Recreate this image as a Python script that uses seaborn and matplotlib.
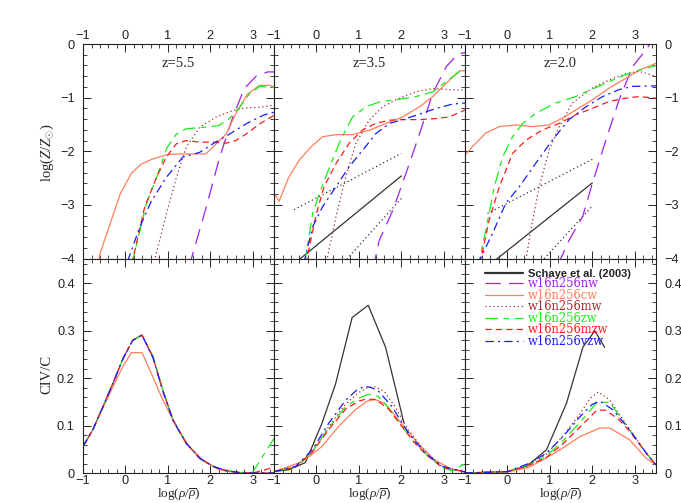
import matplotlib
matplotlib.use("Agg")
import matplotlib.pyplot as plt
import seaborn as sns
import pandas as pd
from matplotlib.ticker import MultipleLocator, FixedLocator, FuncFormatter
from matplotlib.lines import Line2D

sns.set_style("ticks")
plt.rcParams.update({
    "font.family": ["Liberation Serif", "DejaVu Serif"],
    "mathtext.fontset": "custom",
    "mathtext.rm": "Liberation Serif",
    "mathtext.it": "Liberation Serif:italic",
    "lines.scale_dashes": False,
    "axes.edgecolor": "#222222",
    "axes.linewidth": 0.8,
    "xtick.direction": "in", "ytick.direction": "in",
    "xtick.top": True, "ytick.right": True,
    "xtick.major.size": 6, "ytick.major.size": 6,
    "xtick.minor.size": 3, "ytick.minor.size": 3,
    "xtick.major.width": 0.7, "ytick.major.width": 0.7,
    "xtick.minor.width": 0.6, "ytick.minor.width": 0.6,
})

# ---------------- data ----------------
redshifts = ["z=5.5", "z=3.5", "z=2.0"]
models = ["w16n256nw", "w16n256cw", "w16n256mw", "w16n256zw", "w16n256mzw", "w16n256vzw"]
schaye_label = "Schaye et al. (2003)"
xticks = [-1, 0, 1, 2, 3]
top_yticks = [0, -1, -2, -3, -4]
bot_yticks = [0, 0.1, 0.2, 0.3, 0.4]

# top row: log(Z/Zsun) vs log(rho/rhobar)
top55_nw = ([1.5, 1.9, 2.22, 2.53, 2.8, 3.08, 3.35, 3.5], [-4.15, -3.05, -2.11, -1.36, -0.83, -0.6, -0.52, -0.52])
top55_cw = ([-0.63, -0.61, -0.12, 0.14, 0.37, 0.65, 1.0, 1.27, 1.89, 2.14, 2.37, 2.6, 2.88, 3.16, 3.39, 3.5],
            [-4.2, -3.93, -2.79, -2.41, -2.24, -2.14, -2.06, -2.05, -2.05, -1.86, -1.68, -1.3, -0.93, -0.77, -0.77, -0.8])
top55_mw = ([0.68, 0.96, 1.2, 1.43, 1.75, 2.14, 2.53, 2.84, 3.16, 3.5], [-4.05, -3.18, -2.49, -1.93, -1.55, -1.36, -1.24, -1.19, -1.18, -1.14])
top55_zw = ([0.15, 0.49, 0.76, 0.98, 1.2, 1.43, 1.9, 2.2, 2.45, 2.69, 2.92, 3.16, 3.5],
            [-4.1, -2.99, -2.43, -1.93, -1.68, -1.58, -1.55, -1.52, -1.39, -1.18, -0.93, -0.79, -0.81])
top55_mzw = ([0.15, 0.45, 0.73, 0.96, 1.2, 1.43, 1.75, 2.06, 2.37, 2.6, 2.84, 3.16, 3.5],
             [-4.1, -3.05, -2.49, -2.11, -1.86, -1.8, -1.83, -1.83, -1.85, -1.8, -1.68, -1.49, -1.33])
top55_vzw = ([0.05, 0.33, 0.61, 0.96, 1.35, 1.75, 2.06, 2.45, 2.84, 3.24, 3.5],
             [-4.05, -3.43, -2.93, -2.49, -2.11, -2.02, -1.86, -1.68, -1.49, -1.33, -1.27])

top35_nw = ([1.33, 1.48, 1.8, 2.11, 2.43, 2.74, 3.06, 3.33, 3.5], [-4.2, -3.66, -3.1, -2.41, -1.67, -0.92, -0.42, -0.19, -0.16])
top35_cw = ([-1.0, -0.88, -0.65, -0.41, -0.13, 0.14, 0.46, 0.85, 1.24, 1.64, 2.03, 2.43, 2.74, 3.06, 3.37, 3.5],
            [-2.79, -2.93, -2.48, -2.17, -1.92, -1.73, -1.69, -1.69, -1.61, -1.48, -1.36, -1.17, -0.98, -0.73, -0.5, -0.5])
top35_mw = ([0.24, 0.46, 0.69, 0.93, 1.24, 1.56, 1.95, 2.35, 2.74, 3.13, 3.5], [-4.05, -3.22, -2.48, -1.85, -1.42, -1.17, -1.01, -0.89, -0.83, -0.85, -0.86])
top35_zw = ([-0.28, -0.09, 0.1, 0.34, 0.57, 0.85, 1.17, 1.48, 1.95, 2.35, 2.74, 3.06, 3.41, 3.5],
            [-4.1, -3.16, -2.72, -2.23, -1.79, -1.36, -1.17, -1.08, -1.03, -0.98, -0.89, -0.7, -0.49, -0.47])
top35_mzw = ([-0.25, 0.0, 0.18, 0.46, 0.77, 1.09, 1.4, 1.72, 2.03, 2.43, 2.82, 3.13, 3.5],
             [-4.1, -3.16, -2.66, -2.23, -1.85, -1.6, -1.48, -1.42, -1.41, -1.41, -1.39, -1.36, -1.23])
top35_vzw = ([-0.3, -0.09, 0.14, 0.46, 0.77, 1.09, 1.4, 1.72, 2.03, 2.35, 2.82, 3.21, 3.5],
             [-4.1, -3.41, -3.04, -2.66, -2.29, -1.98, -1.67, -1.48, -1.41, -1.33, -1.2, -1.12, -1.1])
top35_schaye = ([-0.5, 2.0], [-4.08, -2.46])
top35_schaye_hi = ([-0.53, 2.0], [-3.09, -2.04])
top35_schaye_lo = ([0.65, 2.0], [-4.07, -2.88])

top20_nw = ([1.2, 1.45, 1.77, 2.0, 2.32, 2.63, 2.95, 3.26, 3.45], [-4.1, -3.66, -3.22, -2.6, -1.79, -1.04, -0.42, -0.11, 0.1])
top20_cw = ([-1.0, -0.82, -0.51, -0.19, 0.2, 0.59, 0.98, 1.3, 1.61, 2.0, 2.4, 2.79, 3.1, 3.5],
            [-2.07, -1.91, -1.66, -1.54, -1.51, -1.54, -1.51, -1.38, -1.23, -1.04, -0.82, -0.64, -0.49, -0.36])
top20_mw = ([0.42, 0.55, 0.75, 0.98, 1.22, 1.53, 2.0, 2.4, 2.79, 3.1, 3.5], [-4.1, -3.47, -2.66, -1.98, -1.54, -1.1, -0.82, -0.67, -0.55, -0.51, -0.6])
top20_zw = ([-0.7, -0.51, -0.31, -0.11, 0.12, 0.36, 0.67, 1.14, 1.61, 2.0, 2.4, 2.79, 3.1, 3.5],
            [-4.2, -3.47, -2.66, -2.1, -1.73, -1.48, -1.29, -1.1, -0.98, -0.84, -0.7, -0.57, -0.49, -0.4])
top20_mzw = ([-0.65, -0.43, -0.19, 0.12, 0.44, 0.83, 1.22, 1.61, 2.0, 2.4, 2.79, 3.1, 3.5],
             [-4.1, -3.28, -2.66, -2.04, -1.79, -1.6, -1.48, -1.32, -1.2, -1.07, -1.01, -0.98, -1.01])
top20_vzw = ([-0.7, -0.35, -0.04, 0.28, 0.67, 1.06, 1.45, 1.85, 2.24, 2.63, 2.95, 3.5],
             [-4.1, -3.53, -2.97, -2.66, -2.22, -1.79, -1.41, -1.17, -0.98, -0.85, -0.79, -0.78])
top20_schaye = ([-0.3, 2.0], [-4.04, -2.59])
top20_schaye_hi = ([-0.47, 2.0], [-3.16, -2.15])
top20_schaye_lo = ([0.8, 2.0], [-4.06, -3.02])

# bottom row: CIV/C vs log(rho/rhobar)
bot55_x = [-1.0, -0.77, -0.53, -0.3, -0.06, 0.17, 0.39, 0.65, 0.88, 1.12, 1.43, 1.75, 2.06, 2.37, 2.68, 3.0, 3.5]
bot55_nw = [0.056, 0.091, 0.14, 0.188, 0.241, 0.28, 0.291, 0.244, 0.174, 0.112, 0.063, 0.031, 0.014, 0.005, 0.001, 0.0, 0.0]
bot55_mw = [0.056, 0.091, 0.14, 0.188, 0.241, 0.28, 0.291, 0.244, 0.174, 0.112, 0.063, 0.031, 0.014, 0.005, 0.001, 0.0, 0.0]
bot55_zw = [0.056, 0.091, 0.14, 0.188, 0.241, 0.28, 0.291, 0.246, 0.176, 0.112, 0.063, 0.031, 0.014, 0.005, 0.001, 0.002, 0.073]
bot55_mzw = [0.056, 0.091, 0.14, 0.188, 0.241, 0.28, 0.291, 0.244, 0.174, 0.112, 0.063, 0.031, 0.014, 0.005, 0.001, 0.0, 0.012]
bot55_vzw = [0.056, 0.091, 0.14, 0.188, 0.241, 0.28, 0.291, 0.243, 0.173, 0.111, 0.063, 0.031, 0.014, 0.005, 0.001, 0.0, 0.0]
bot55_cw = ([-1.0, -0.77, -0.53, -0.3, -0.06, 0.14, 0.39, 0.65, 0.88, 1.2, 1.5, 1.82, 2.2, 2.6, 3.0, 3.5],
            [0.056, 0.091, 0.138, 0.181, 0.225, 0.254, 0.254, 0.202, 0.154, 0.098, 0.056, 0.028, 0.007, 0.001, 0.0, 0.0])

bot35_schaye = ([-1.0, -0.65, -0.26, 0.13, 0.45, 0.84, 1.22, 1.63, 2.06], [0.003, 0.007, 0.022, 0.105, 0.188, 0.328, 0.354, 0.265, 0.106])
bot35_cw = ([-1.0, -0.33, 0.13, 0.52, 0.91, 1.2, 1.38, 1.61, 2.0, 2.39, 2.78, 3.18, 3.5],
            [0.003, 0.024, 0.056, 0.098, 0.133, 0.152, 0.155, 0.147, 0.105, 0.063, 0.028, 0.008, 0.003])
bot35_mw = ([-1.0, -0.49, -0.1, 0.29, 0.69, 1.0, 1.2, 1.38, 1.6, 1.85, 2.17, 2.56, 2.96, 3.5],
            [0.003, 0.013, 0.045, 0.098, 0.146, 0.17, 0.18, 0.182, 0.172, 0.14, 0.09, 0.045, 0.014, 0.002])
bot35_zw = ([-1.0, -0.49, -0.1, 0.29, 0.69, 1.0, 1.22, 1.45, 1.7, 2.0, 2.3, 2.6, 2.96, 3.2, 3.5],
            [0.003, 0.013, 0.045, 0.095, 0.14, 0.158, 0.166, 0.162, 0.138, 0.1, 0.065, 0.038, 0.012, 0.004, 0.02])
bot35_mzw = ([-1.0, -0.49, -0.1, 0.29, 0.69, 1.0, 1.18, 1.4, 1.7, 2.0, 2.3, 2.6, 2.96, 3.5],
             [0.003, 0.013, 0.044, 0.092, 0.135, 0.152, 0.156, 0.155, 0.135, 0.1, 0.065, 0.038, 0.012, 0.003])
bot35_vzw = ([-1.0, -0.49, -0.1, 0.29, 0.69, 0.95, 1.14, 1.3, 1.47, 1.78, 2.17, 2.56, 2.96, 3.5],
             [0.003, 0.014, 0.049, 0.105, 0.154, 0.175, 0.183, 0.18, 0.172, 0.14, 0.084, 0.042, 0.014, 0.002])

bot20_schaye = ([-1.0, 0.0, 0.45, 0.92, 1.39, 1.78, 2.06, 2.29], [0.0, 0.003, 0.014, 0.049, 0.147, 0.266, 0.3, 0.265])
bot20_cw = ([-1.0, 0.0, 0.5, 0.84, 1.24, 1.71, 2.18, 2.41, 2.88, 3.27, 3.5],
            [0.0, 0.002, 0.012, 0.028, 0.049, 0.077, 0.095, 0.095, 0.07, 0.031, 0.017])
bot20_mw = ([-1.0, 0.0, 0.53, 0.92, 1.31, 1.71, 1.95, 2.14, 2.4, 2.88, 3.27, 3.5],
            [0.0, 0.003, 0.02, 0.04, 0.078, 0.125, 0.158, 0.171, 0.155, 0.092, 0.042, 0.017])
bot20_zw = ([-1.0, 0.0, 0.53, 0.92, 1.31, 1.71, 2.1, 2.41, 2.6, 2.88, 3.27, 3.5],
            [0.0, 0.003, 0.018, 0.036, 0.068, 0.107, 0.148, 0.15, 0.125, 0.09, 0.042, 0.017])
bot20_mzw = ([-1.0, 0.0, 0.53, 0.92, 1.31, 1.71, 2.1, 2.3, 2.6, 2.88, 3.27, 3.5],
             [0.0, 0.003, 0.017, 0.033, 0.062, 0.097, 0.132, 0.133, 0.115, 0.088, 0.042, 0.017])
bot20_vzw = ([-1.0, 0.0, 0.53, 0.92, 1.31, 1.71, 2.0, 2.18, 2.49, 2.88, 3.27, 3.5],
             [0.0, 0.003, 0.021, 0.042, 0.077, 0.119, 0.145, 0.152, 0.133, 0.091, 0.042, 0.017])

# ---------------- styles ----------------
colors = {"w16n256nw": "#A020F0", "w16n256cw": "#FF7F5A", "w16n256mw": "#A52A2A",
          "w16n256zw": "#19EE19", "w16n256mzw": "#FF1A1A", "w16n256vzw": "#1A1AFF",
          schaye_label: "#333333"}
styles = {"w16n256nw": (0, (11, 6)), "w16n256cw": "-", "w16n256mw": (0, (0.9, 2.0)),
          "w16n256zw": (0, (9, 4, 4, 4)), "w16n256mzw": (0, (4.5, 3)),
          "w16n256vzw": (0, (6, 3, 1.5, 3)), schaye_label: "-"}

top_panels = [
    {"nw": top55_nw, "cw": top55_cw, "mw": top55_mw, "zw": top55_zw, "mzw": top55_mzw, "vzw": top55_vzw},
    {"nw": top35_nw, "cw": top35_cw, "mw": top35_mw, "zw": top35_zw, "mzw": top35_mzw, "vzw": top35_vzw},
    {"nw": top20_nw, "cw": top20_cw, "mw": top20_mw, "zw": top20_zw, "mzw": top20_mzw, "vzw": top20_vzw},
]
top_schaye = [None, (top35_schaye, top35_schaye_hi, top35_schaye_lo), (top20_schaye, top20_schaye_hi, top20_schaye_lo)]
bot_panels = [
    {"nw": (bot55_x, bot55_nw), "cw": bot55_cw, "mw": (bot55_x, bot55_mw), "zw": (bot55_x, bot55_zw),
     "mzw": (bot55_x, bot55_mzw), "vzw": (bot55_x, bot55_vzw)},
    {"cw": bot35_cw, "mw": bot35_mw, "zw": bot35_zw, "mzw": bot35_mzw, "vzw": bot35_vzw},
    {"cw": bot20_cw, "mw": bot20_mw, "zw": bot20_zw, "mzw": bot20_mzw, "vzw": bot20_vzw},
]
bot_schaye = [None, bot35_schaye, bot20_schaye]

fig = plt.figure(figsize=(6.81, 5.03), dpi=100)
axes = fig.subplots(2, 3)
fig.subplots_adjust(left=0.1219, right=0.9633, bottom=0.0596, top=0.9125, wspace=0, hspace=0)

LW = 0.9


def draw(ax, x, y, name, ls=None):
    df = pd.DataFrame({"x": x, "y": y})
    sns.lineplot(data=df, x="x", y="y", ax=ax, sort=False, estimator=None,
                 color=colors[name], linestyle=ls if ls is not None else styles[name],
                 linewidth=LW, legend=False)


tick_family = ["Liberation Sans", "DejaVu Sans"]
tick_size = 9.2
dotted = (0, (0.9, 2.0))

for j in range(3):
    ax = axes[0, j]
    if top_schaye[j] is not None:
        s, hi, lo = top_schaye[j]
        draw(ax, s[0], s[1], schaye_label)
        draw(ax, hi[0], hi[1], schaye_label, ls=dotted)
        draw(ax, lo[0], lo[1], schaye_label, ls=dotted)
    for key in ["nw", "cw", "mw", "zw", "mzw", "vzw"]:
        x, y = top_panels[j][key]
        draw(ax, x, y, "w16n256" + key)
    ax.set_ylim(-4, 0)
    ax.text(0.5, 0.91, redshifts[j], transform=ax.transAxes, ha="center", va="center", fontsize=10.5)

    ax = axes[1, j]
    if bot_schaye[j] is not None:
        s = bot_schaye[j]
        draw(ax, s[0], s[1], schaye_label)
    for key in ["nw", "cw", "mw", "zw", "mzw", "vzw"]:
        if key in bot_panels[j]:
            x, y = bot_panels[j][key]
            draw(ax, x, y, "w16n256" + key)
    ax.set_ylim(0, 0.4526)


def int_fmt(v, p):
    return f"{int(round(v))}".replace("-", "\u2212")


for ax in axes.flat:
    ax.set_xlim(-1, 3.5)
    ax.xaxis.set_major_locator(FixedLocator(xticks))
    ax.xaxis.set_minor_locator(MultipleLocator(0.2))
    ax.xaxis.set_major_formatter(FuncFormatter(int_fmt))
    ax.set_xlabel("")
    ax.set_ylabel("")
    ax.tick_params(which="both", top=True, right=True, bottom=True, left=True,
                   labelbottom=False, labeltop=False, labelleft=False, labelright=False,
                   colors="#222222")

for j in range(3):
    axes[0, j].yaxis.set_major_locator(FixedLocator(top_yticks))
    axes[0, j].yaxis.set_minor_locator(MultipleLocator(0.2))
    axes[0, j].yaxis.set_major_formatter(FuncFormatter(int_fmt))
    axes[1, j].yaxis.set_major_locator(FixedLocator(bot_yticks))
    axes[1, j].yaxis.set_minor_locator(MultipleLocator(0.02))
    axes[1, j].yaxis.set_major_formatter(FuncFormatter(lambda v, p: "0" if abs(v) < 1e-9 else f"{v:.1f}"))
    axes[0, j].tick_params(axis="x", labeltop=True, pad=1.5)
    axes[1, j].tick_params(axis="x", labelbottom=True, pad=1.2)
    axes[1, j].set_xlabel(r"$\mathrm{log}(\rho/\overline{\rho})$", fontsize=9.5, va="center")
    axes[1, j].xaxis.set_label_coords(0.5, -0.104)

for i in range(2):
    axes[i, 0].tick_params(axis="y", labelleft=True, pad=6)
    axes[i, 2].tick_params(axis="y", labelright=True, pad=6)

for ax in axes.flat:
    for lab in ax.get_xticklabels(which="both") + ax.get_yticklabels(which="both"):
        lab.set_fontfamily(tick_family)
        lab.set_fontsize(tick_size)

axes[0, 0].set_ylabel(r"$\mathrm{log}(Z/Z_{\odot})$", fontsize=10.5, va="center", ha="center")
axes[0, 0].yaxis.set_label_coords(-0.188, 0.495)
axes[1, 0].set_ylabel("CIV/C", fontsize=10.5, va="center", ha="center")
axes[1, 0].yaxis.set_label_coords(-0.188, 0.46)

# legend
handles = [Line2D([], [], color=colors[schaye_label], lw=1.6, linestyle="-")]
labels = [schaye_label]
for m in models:
    handles.append(Line2D([], [], color=colors[m], lw=LW, linestyle=styles[m]))
    labels.append(m)
leg = axes[1, 2].legend(handles, labels, loc="upper left", bbox_to_anchor=(0.105, 0.952),
                        frameon=False, handlelength=3.3, handletextpad=0.4, labelspacing=-0.13,
                        borderpad=0.0, borderaxespad=0.0,
                        prop={"family": ["DejaVu Serif"], "size": 8.3})
for t, lab in zip(leg.get_texts(), labels):
    t.set_color(colors[lab] if lab != schaye_label else "#222222")
    if lab == schaye_label:
        t.set_fontfamily(["Liberation Sans", "DejaVu Sans"])
        t.set_fontweight("bold")
        t.set_fontsize(8)

fig.savefig("out.png", dpi=100)
